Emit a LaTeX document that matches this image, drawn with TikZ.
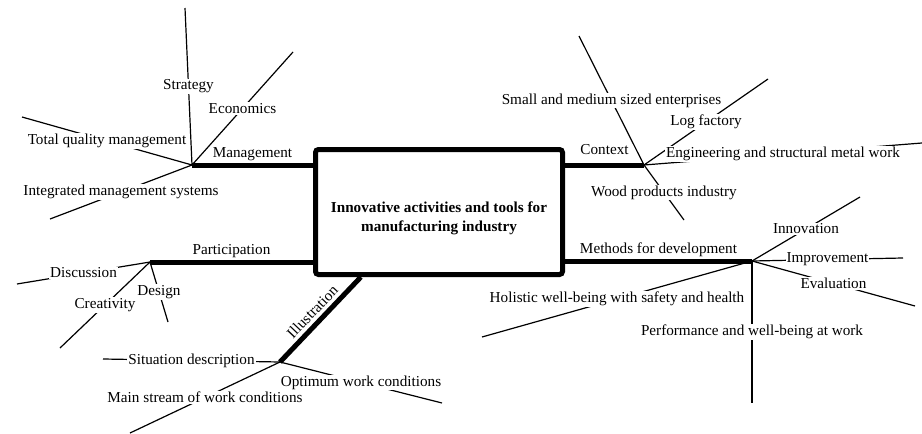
\documentclass[tikz,border=0pt]{standalone}
\usepackage{fontspec}
\setmainfont{Liberation Serif}
\usetikzlibrary{calc}

\begin{document}
\begin{tikzpicture}[
  x=1pt, y=-1pt,
  font=\fontsize{15.2}{18}\selectfont,
  hubbox/.style={draw, line width=5pt, rounded corners=3pt,
    minimum width=247pt, minimum height=125pt, inner sep=0pt},
  trunk/.style={line width=5pt},
  twig/.style={line width=1.2pt},
  leaf/.style={midway, fill=white, inner sep=1pt},
  lbl/.style={midway, above=0.5pt, inner sep=1pt},
]
  \useasboundingbox (0,0) rectangle (922,434);

  % -- Central box --
  \node[hubbox] (core) at (439,212) {};
  \node[font=\fontsize{15.2}{19}\selectfont\bfseries, align=center]
    (title) at (439,218) {Innovative activities and tools for\\manufacturing industry};

  % -- Hubs of the five branches --
  \coordinate (mgmt) at (192,165);
  \coordinate (ctx) at (644,165);
  \coordinate (part) at (150,262);
  \coordinate (meth) at (752,261);
  \coordinate (illu) at (280,362);

  % -- Main branches --
  \draw[trunk] (core.west |- mgmt) -- (mgmt) node[lbl] {Management};
  \draw[trunk] (core.east |- ctx) -- (ctx) node[lbl, above=6pt] {Context};
  \draw[trunk] (core.west |- part) -- (part) node[lbl] {Participation};
  \draw[trunk] (core.east |- meth) -- (meth) node[lbl] {Methods for development};
  \draw[trunk] ($(core.south west)!0.19!(core.south east)$) -- (illu)
    node[lbl, sloped, above=2pt] {Illustration};

  % -- Management twigs --
  \coordinate (strategy) at (185,8);
  \coordinate (economics) at (293,52);
  \coordinate (tqm) at (22,117);
  \coordinate (ims) at (50,219);
  \draw[twig] (mgmt) -- (strategy) node[leaf] {Strategy};
  \draw[twig] (mgmt) -- (economics) node[leaf] {Economics};
  \draw[twig] (mgmt) -- (tqm) node[leaf] {Total quality management};
  \draw[twig] (mgmt) -- (ims) node[leaf] {Integrated management systems};

  % -- Context twigs --
  \coordinate (sme) at (579,36);
  \coordinate (logf) at (768,79);
  \coordinate (metal) at (922,143);
  \coordinate (wood) at (684,220);
  \draw[twig] (ctx) -- (sme) node[leaf] {Small and medium sized enterprises};
  \draw[twig] (ctx) -- (logf) node[leaf] {Log factory};
  \draw[twig] (ctx) -- (metal) node[leaf] {Engineering and structural metal work};
  \draw[twig] (ctx) -- (wood) node[leaf] {Wood products industry};

  % -- Participation twigs --
  \coordinate (discussion) at (17,284);
  \coordinate (creativity) at (60,348);
  \coordinate (design) at (168,322);
  \draw[twig] (part) -- (discussion) node[leaf] {Discussion};
  \draw[twig] (part) -- (creativity) node[leaf] {Creativity};
  \draw[twig] (part) -- (design) node[leaf] {Design};

  % -- Methods twigs --
  \coordinate (innov) at (860,197);
  \coordinate (improve) at (903,258);
  \coordinate (evaluation) at (915,306);
  \coordinate (holistic) at (482,337);
  \coordinate (perform) at (752,403);
  \draw[twig] (meth) -- (innov) node[leaf] {Innovation};
  \draw[twig] (meth) -- (improve) node[leaf] {Improvement};
  \draw[twig] (meth) -- (evaluation) node[leaf] {Evaluation};
  \draw[twig] (meth) -- (holistic) node[leaf] {Holistic well-being with safety and health};
  \draw[twig] (meth) -- (perform) node[leaf] {Performance and well-being at work};

  % -- Illustration twigs --
  \coordinate (situation) at (103,359);
  \coordinate (optimum) at (442,403);
  \coordinate (mainstream) at (130,433);
  \draw[twig] (illu) -- (situation) node[leaf] {Situation description};
  \draw[twig] (illu) -- (optimum) node[leaf] {Optimum work conditions};
  \draw[twig] (illu) -- (mainstream) node[leaf] {Main stream of work conditions};
\end{tikzpicture}
\end{document}
